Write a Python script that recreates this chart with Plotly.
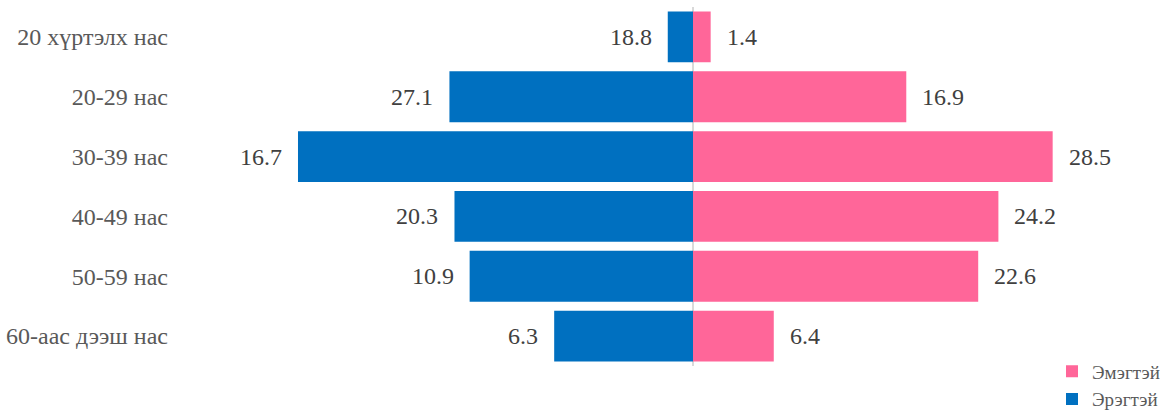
import plotly.graph_objects as go

# Age groups, top to bottom
age_groups = ["20 хүртэлх нас", "20-29 нас", "30-39 нас", "40-49 нас", "50-59 нас", "60-аас дээш нас"]

# Bar lengths
female_len = [1.4, 16.9, 28.5, 24.2, 22.6, 6.4]
male_len = [2.0, 19.3, 31.3, 18.9, 17.7, 11.0]

# Printed value labels
female_labels = ["1.4", "16.9", "28.5", "24.2", "22.6", "6.4"]
male_labels = ["18.8", "27.1", "16.7", "20.3", "10.9", "6.3"]

BLUE = "#0070C0"
PINK = "#FF6699"
FONT = "Liberation Serif"

fig = go.Figure()

fig.add_trace(go.Bar(y=age_groups, x=female_len, orientation="h", name="Эмэгтэй",
                     marker=dict(color=PINK, line=dict(width=0)), hoverinfo="skip"))
fig.add_trace(go.Bar(y=age_groups, x=[-v for v in male_len], orientation="h", name="Эрэгтэй",
                     marker=dict(color=BLUE, line=dict(width=0)), hoverinfo="skip"))

# value labels just outside the bar ends
for cat, v, t in zip(age_groups, female_len, female_labels):
    fig.add_annotation(x=v, y=cat, text=t, showarrow=False, xanchor="left", xshift=14,
                       font=dict(size=24, color="#404040", family=FONT))
for cat, v, t in zip(age_groups, male_len, male_labels):
    fig.add_annotation(x=-v, y=cat, text=t, showarrow=False, xanchor="right", xshift=-14,
                       font=dict(size=24, color="#404040", family=FONT))

PX = 12.62  # pixels per unit
LEFT = 176
fig.update_layout(
    width=1165, height=410,
    barmode="relative", bargap=0.15,
    plot_bgcolor="white", paper_bgcolor="white",
    margin=dict(l=LEFT, r=0, t=6.5, b=43.5, autoexpand=False),
    font=dict(family=FONT, color="#595959"),
    xaxis=dict(range=[-(693 - LEFT) / PX, (1165 - 693) / PX], showgrid=False,
               showticklabels=False, zeroline=True, zerolinecolor="#d9d9d9", zerolinewidth=2),
    yaxis=dict(autorange="reversed", showgrid=False, ticks="", ticklabelstandoff=7,
               tickfont=dict(size=24, color="#595959")),
    legend=dict(x=1, xanchor="right", y=-52.5 / 360, yanchor="bottom",
                traceorder="normal", font=dict(size=19, color="#595959"),
                bgcolor="rgba(0,0,0,0)", tracegroupgap=0),
    showlegend=True,
)

fig.write_html("out.html", config={"displayModeBar": False},
               post_script="document.body.style.margin='0';")
